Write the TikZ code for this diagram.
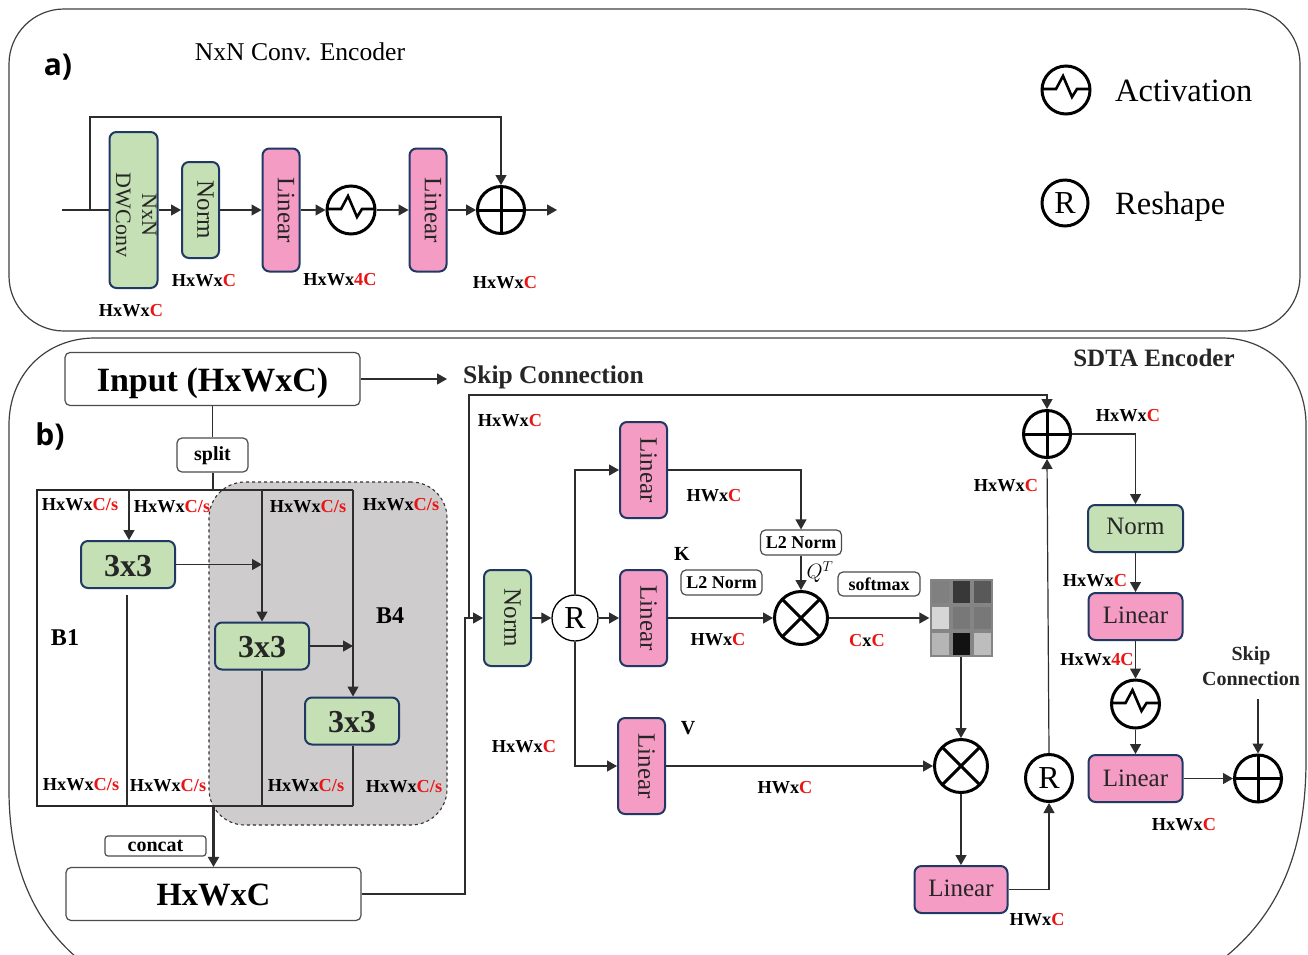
\documentclass[tikz,border=0pt]{standalone}
\usepackage{fontspec}
\usepackage{graphicx}
\setmainfont{Liberation Serif}
\newfontfamily\lblsans{Open Sans}
\usetikzlibrary{arrows.meta,calc}
\definecolor{gbox}{RGB}{197,224,180}
\definecolor{pbox}{RGB}{244,156,196}
\definecolor{bedge}{RGB}{31,56,100}
\definecolor{wire}{RGB}{45,45,45}
\definecolor{redtxt}{RGB}{235,20,20}
\definecolor{regiongray}{RGB}{206,204,205}
\newcommand{\fs}[1]{\fontsize{#1}{#1}\selectfont}
\newcommand{\rot}[1]{\makebox[0pt][c]{\hspace*{10pt}\rotatebox[origin=c]{-90}{#1}}}
\newcommand{\rc}[1]{\textcolor{redtxt}{#1}}
\newcommand{\hwc}{HxWx\rc{C}}
\newcommand{\hws}{HxWx\rc{C/s}}
\newcommand{\hw}{HWx\rc{C}}
\tikzset{
  blockbox/.style={draw=bedge,line width=2,rounded corners=7,inner sep=0,align=center,text=black!85},
  gb/.style={blockbox,fill=gbox},
  pb/.style={blockbox,fill=pbox},
  plainbox/.style={draw=black!70,line width=1.2,fill=white,rounded corners=5,inner sep=0},
  wh/.style args={#1x#2}{minimum width=#1,minimum height=#2},
  sym/.style={circle,draw=black,line width=3,inner sep=0,fill=white},
  oplusn/.style={sym,minimum size=47,path picture={
    \draw[line width=3] (path picture bounding box.north)--(path picture bounding box.south)
      (path picture bounding box.west)--(path picture bounding box.east);}},
  otimesn/.style={sym,minimum size=53,path picture={
    \draw[line width=3] (path picture bounding box.north west)--(path picture bounding box.south east)
      (path picture bounding box.north east)--(path picture bounding box.south west);}},
  actn/.style={sym,minimum size=48,path picture={
    \draw[line width=2.6,shift={(path picture bounding box.center)}]
      (-24,-1)--(-10,-1)--(-3,-14)--(6,7)--(11,-1)--(24,-1);}},
  rn/.style={circle,draw=black,line width=#1,inner sep=0,minimum size=46,fill=white,font=\fs{32}},
  rn/.default=1.3,
  dim/.style={inner sep=0,font=\fs{18.3}\bfseries},
  wr/.style={draw=wire,line width=1.2},
  ar/.style={wr,-{Triangle[length=10,width=11]}},
}
\begin{document}
\begin{tikzpicture}[x=1pt,y=-1pt]
\useasboundingbox (0,0) rectangle (1308,954);
\fill[white] (0,0) rectangle (1308,954);

% panels
\node[draw=black!75,line width=1.2,rounded corners=55,minimum width=1291,minimum height=322,inner sep=0] (panela) at (654.5,170) {};
\begin{scope}
\clip (0,0) rectangle (1308,954);
\draw[black!75,line width=1.2] (9,790) .. controls (9,860) and (30,930) .. (100,975)
  (1200,975) .. controls (1280,925) and (1306,850) .. (1306,760) -- (1306,425)
  .. controls (1306,375) and (1270,338) .. (1222,338) -- (95,338)
  .. controls (45,338) and (9,375) .. (9,425) -- (9,790);
\end{scope}

% panel a
\node[inner sep=0,font=\lblsans\fs{30}\bfseries] (la) at (58,67) {a)};
\node[inner sep=0,font=\fs{25.6}] (ta) at (300,52) {NxN Conv. Encoder};
\coordinate (ain) at (62,210);
\coordinate (askip) at (90,210);
\coordinate (aout) at (557,210);
\node[gb,wh=47x156] (dw) at (133.5,210) {\rotatebox[origin=c]{-90}{\fs{22}\hspace*{10pt}\begin{tabular}{@{}c@{}}NxN\\[4pt]DWConv\end{tabular}}};
\node[gb,wh=37x96] (an) at (200.5,210) {\rot{\fs{25}Norm}};
\node[pb,wh=37x123] (al1) at (281,210) {\rot{\fs{25}Linear}};
\node[actn] (aact) at (351,210) {};
\node[pb,wh=37x123] (al2) at (428,210) {\rot{\fs{25}Linear}};
\node[oplusn] (aplus) at (501,210) {};
\draw[wr] (ain) -- (dw.west);
\draw[ar] (dw.east) -- (an.west);
\draw[ar] (an.east) -- (al1.west);
\draw[ar] (al1.east) -- (aact.west);
\draw[ar] (aact.east) -- (al2.west);
\draw[ar] (al2.east) -- (aplus.west);
\draw[ar] (aplus.east) -- (aout);
\draw[ar] (askip) -- (90,117) -| (aplus.north);
\node[dim] (d1) at (131,311) {\hwc};
\node[dim] (d2) at (204,281) {\hwc};
\node[dim] (d3) at (340,280) {HxWx\rc{4C}};
\node[dim] (d4) at (505,283) {\hwc};

% legend
\node[actn] (lact) at (1066,90) {};
\node[rn=3] (lr) at (1065,203) {R};
\node[anchor=west,inner sep=0,font=\fs{32.5}] (tact) at (1115,91) {Activation};
\node[anchor=west,inner sep=0,font=\fs{32.5}] (tres) at (1115,207) {Reshape};

% panel b : left block
\node[inner sep=0,font=\lblsans\fs{30}\bfseries] (lb) at (50,436) {b)};
\node[inner sep=0,font=\fs{25}\bfseries,text=black!85] (sdta) at (1154,358) {SDTA Encoder};
\node[draw=black!80,dashed,line width=1.1,fill=regiongray,rounded corners=36,minimum width=238,minimum height=343,inner sep=0] (region) at (328,653.5) {};
\node[plainbox,wh=295x53,font=\fs{34}\bfseries,text height=24,text depth=0] (inp) at (212.5,379) {Input (HxWxC)};
\node[plainbox,wh=71x34,font=\fs{20}\bfseries,text height=10,text depth=0] (split) at (212.5,455) {split};
\node[anchor=west,inner sep=0,font=\fs{25.5}\bfseries,text=black!85] (skip) at (463,377) {Skip Connection};
\coordinate (skipend) at (447,379);
\coordinate (t0) at (37,490);
\coordinate (t1) at (129,490);
\coordinate (ts) at (212.5,490);
\coordinate (t2) at (262,490);
\coordinate (t3) at (353,490);
\coordinate (b0) at (37,806);
\coordinate (b1) at (127,806);
\coordinate (bs) at (213.5,806);
\coordinate (b2) at (262,806);
\coordinate (b3) at (353,806);
\coordinate (o1) at (127,595);
\draw[wr,black!85] (b3) -- (b0) -- (t0) -- (t3);
\node[gb,wh=94x47,font=\fs{32}\bfseries,text height=23,text depth=0] (c1) at (128,564.5) {3x3};
\node[gb,wh=94x47,font=\fs{32}\bfseries,text height=23,text depth=0] (c2) at (262,646) {3x3};
\node[gb,wh=94x47,font=\fs{32}\bfseries,text height=23,text depth=0] (c3) at (352,721) {3x3};
\node[plainbox,wh=295x53,font=\fs{32.5}\bfseries,text height=23,text depth=0] (hwcb) at (213.5,894) {HxWxC};
\node[plainbox,wh=101x20,rounded corners=3,font=\fs{20}\bfseries] (concat) at (155.5,846) {concat};
\draw[ar] (inp.east) -- (skipend);
\draw[wr] (inp.south) -- (split.north);
\draw[wr,line width=2] (split.south) -- (ts);
\draw[wr,line width=1.6] (t1) -- (t2);
\draw[ar,line width=1.4] (t1) -- (t1 |- c1.north);
\draw[ar,line width=1.4] (t2) -- (c2.north);
\draw[ar] (t3) -- (t3 |- c3.north);
\draw[ar] (c1.east) -- (c1.east -| t2);
\draw[ar] (c2.east) -- (c2.east -| t3);
\draw[wr] (o1) -- (b1);
\draw[wr,line width=1.6] (c2.south) -- (b2) -- (b1);
\draw[wr] (c3.south -| b3) -- (b3);
\draw[ar,line width=2.2] (bs) -- (hwcb.north -| bs);
\foreach \n/\x/\y in {s1/80/505,s2/172/507,s3/308/507,s4/401/505,s5/81/785,s6/168/786,s7/306/786,s8/404/787}
  \node[dim] (\n) at (\x,\y) {\hws};
\node[inner sep=0,font=\fs{24}\bfseries] (b1t) at (65,638) {B1};
\node[inner sep=0,font=\fs{24}\bfseries] (b4t) at (390,616) {B4};

% panel b : attention
\node[gb,wh=47x96] (nb) at (507.5,618) {\rot{\fs{25}Norm}};
\node[rn] (rb) at (575,618) {R};
\node[pb,wh=47x96] (lq) at (643.5,470) {\rot{\fs{25}Linear}};
\node[pb,wh=47x96] (lk) at (643.5,618) {\rot{\fs{25}Linear}};
\node[pb,wh=47x96] (lv) at (641.5,766) {\rot{\fs{25}Linear}};
\node[plainbox,wh=81x25,font=\fs{18}\bfseries] (l2q) at (801,542.5) {L2 Norm};
\node[plainbox,wh=81x25,font=\fs{18}\bfseries] (l2k) at (721.5,582.5) {L2 Norm};
\node[plainbox,wh=82x24,font=\fs{18}\bfseries] (soft) at (879,584) {softmax};
\node[otimesn] (ot1) at (801,618) {};
\node[otimesn] (ot2) at (961,766) {};
\node[inner sep=0,minimum width=63,minimum height=78,fill=black!48] (mat) at (961,618) {};
\foreach \c/\r/\v in {0/0/50,1/0/78,2/0/65,0/1/16,1/1/53,2/1/53,0/2/29,1/2/93,2/2/26}
  \fill[black!\v] ($(929.5,579) + (\c*21,\r*26) + (2,2)$) rectangle ++(17,22);
\node[pb,wh=93x47,font=\fs{25},text height=14,text depth=0] (lo) at (961,889.5) {Linear};
\node[rn=3,minimum size=47] (ro) at (1049,778) {R};
\node[oplusn] (pl1) at (1047,434) {};
\node[gb,wh=95x47,font=\fs{25},text height=11,text depth=0] (n2) at (1135.5,528.5) {Norm};
\node[pb,wh=94x47,font=\fs{25},text height=14,text depth=0] (l3) at (1135.5,616.5) {Linear};
\node[actn] (ac2) at (1135.5,704) {};
\node[pb,wh=94x47,font=\fs{25}] (l4) at (1135.5,778.5) {Linear};
\node[oplusn] (pl2) at (1258,778.5) {};
\node[inner sep=0,align=center,font=\fs{20}\bfseries,text=black!85] (skp) at (1251,666) {Skip\\[5pt]Connection};
\coordinate (skpo) at (1258,699);
\coordinate (jin) at (469,618);
\coordinate (sk0) at (469,395);

\draw[wr] (hwcb.east) -| (465,618) -- (jin);
\draw[ar] (jin) -- (nb.west);
\draw[ar] (jin) -- (sk0) -| (pl1.north);
\draw[ar] (nb.east) -- (rb.west);
\draw[ar] (rb.east) -- (lk.west);
\draw[ar] (rb.north) |- (lq.west);
\draw[ar] (rb.south) |- (lv.west);
\draw[ar] (lq.east) -| (l2q.north);
\draw[ar] (l2q.south) -- (ot1.north);
\draw[ar] (lk.east) -- (ot1.west);
\draw[ar] (ot1.east) -- (mat.west);
\draw[ar] (mat.south) -- (ot2.north);
\draw[ar] (lv.east) -- (ot2.west);
\draw[ar] (ot2.south) -- (lo.north);
\draw[ar] (lo.east) -| (ro.south);
\draw[ar] (ro.north) -- (pl1.south);
\draw[ar] (pl1.east) -| (n2.north);
\draw[ar] (n2.south) -- (l3.north);
\draw[ar] (l3.south) -- (ac2.north);
\draw[ar] (ac2.south) -- (l4.north);
\draw[ar] (l4.east) -- (pl2.west);
\draw[ar] (skpo) -- (pl2.north);

\node[inner sep=0,font=\fs{20}\bfseries] (kt) at (682,554) {K};
\node[inner sep=0,font=\fs{20}\bfseries] (vt) at (688,728) {V};
\node[inner sep=0,font=\fs{20}] (qt) at (820,572) {$Q^T$};
\node[dim] (e1) at (510,421) {\hwc};
\node[dim] (e2) at (524,747) {\hwc};
\node[dim] (e3) at (714,496) {\hw};
\node[dim] (e4) at (718,640) {\hw};
\node[dim] (e5) at (867,641) {\rc{C}x\rc{C}};
\node[dim] (e6) at (785,788) {\hw};
\node[dim] (e7) at (1037,920) {\hw};
\node[dim] (e8) at (1006,486) {\hwc};
\node[dim] (e9) at (1128,416) {\hwc};
\node[dim] (e10) at (1095,581) {\hwc};
\node[dim] (e11) at (1097,660) {HxWx\rc{4C}};
\node[dim] (e12) at (1184,825) {\hwc};
\end{tikzpicture}
\end{document}
